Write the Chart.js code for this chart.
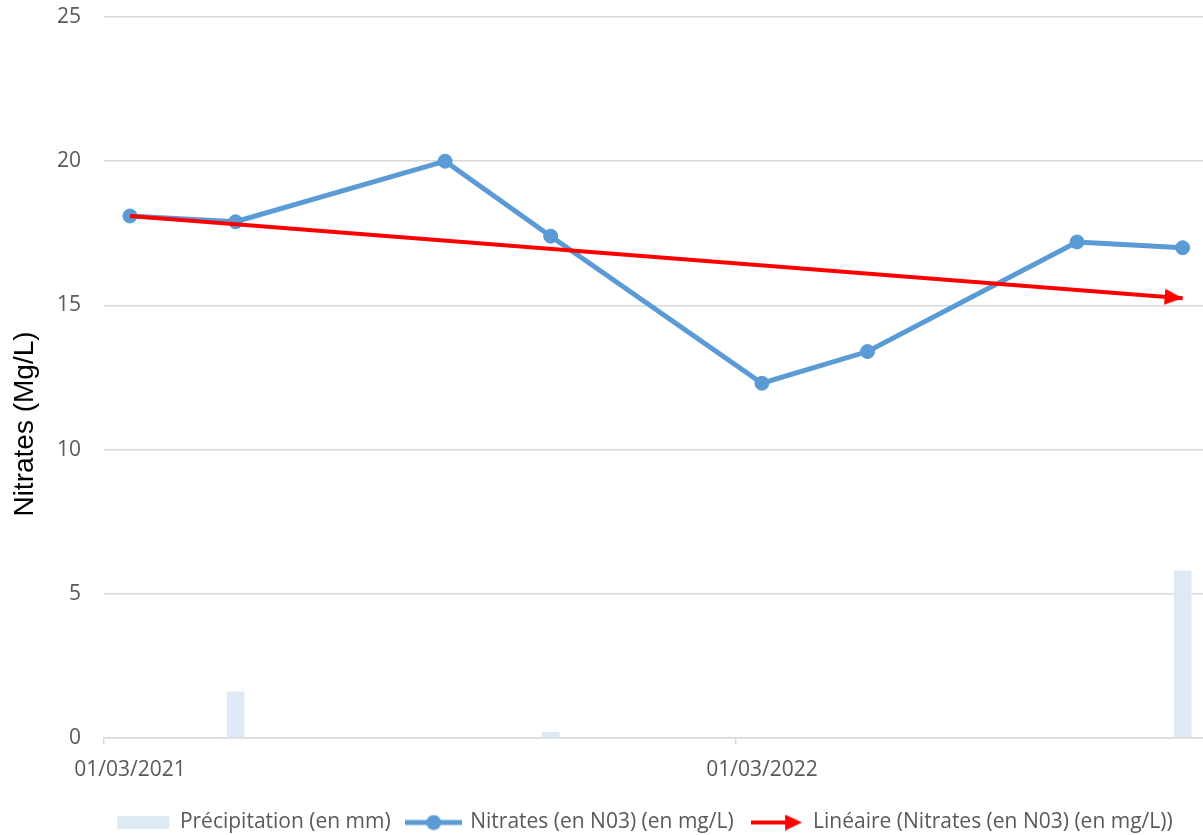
<!DOCTYPE html>
<html>
<head>
<meta charset="utf-8">
<script src="https://cdn.jsdelivr.net/npm/chart.js@4.4.1/dist/chart.umd.min.js"></script>
<style>
  html, body { margin: 0; padding: 0; background: #fff; overflow: hidden; }
  #wrap { width: 1319px; height: 843px; }
</style>
</head>
<body>
<div id="wrap"><canvas id="myChart" width="1319" height="843"></canvas></div>
<script>
const dates = ['2021-03-16', '2021-05-16', '2021-09-14', '2021-11-14', '2022-03-16', '2022-05-16', '2022-09-14', '2022-11-14'];
const nitrates = [18.1, 17.9, 20.0, 17.4, 12.3, 13.4, 17.2, 17.0];
const rainDates = ['2021-05-16', '2021-11-14', '2022-11-14'];
const rain = [1.6, 0.2, 5.8];
const trendDates = ['2021-03-16', '2022-11-14'];
const trend = [18.1, 15.25];
const tickDates = ['2021-03-01', '2022-03-01'];
const tickLabels = ['01/03/2021', '01/03/2022'];
const yTitle = 'Nitrates (Mg/L)';

const blue = '#5b9bd5';
const red = '#ff0000';
const rainColor = '#dde9f5';
const grey = '#595959';
const font = { family: "'Open Sans', 'Noto Sans', sans-serif", size: 21 };

// days since 01/03/2021
const origin = Date.parse('2021-03-01');
const toDay = s => (Date.parse(s) - origin) / 86400000;

function icon(w, h, draw) {
  const c = document.createElement('canvas');
  c.width = w; c.height = h;
  draw(c.getContext('2d'));
  return c;
}

// arrowhead, tip sits at the canvas centre
const arrowHead = icon(36, 16, ctx => {
  ctx.fillStyle = red;
  ctx.beginPath();
  ctx.moveTo(0, 0); ctx.lineTo(18, 8); ctx.lineTo(0, 16);
  ctx.closePath(); ctx.fill();
});

const blueIcon = icon(57, 16, ctx => {
  ctx.strokeStyle = blue; ctx.lineWidth = 5;
  ctx.beginPath(); ctx.moveTo(0, 8); ctx.lineTo(57, 8); ctx.stroke();
  ctx.fillStyle = blue;
  ctx.beginPath(); ctx.arc(28.5, 8, 7.5, 0, Math.PI * 2); ctx.fill();
});

const redIcon = icon(51, 16, ctx => {
  ctx.strokeStyle = red; ctx.lineWidth = 4;
  ctx.beginPath(); ctx.moveTo(0, 8); ctx.lineTo(40, 8); ctx.stroke();
  ctx.fillStyle = red;
  ctx.beginPath(); ctx.moveTo(34, 0); ctx.lineTo(51, 8); ctx.lineTo(34, 16);
  ctx.closePath(); ctx.fill();
});

const yTitlePlugin = {
  id: 'yTitle',
  afterDraw(chart) {
    const ctx = chart.ctx;
    ctx.save();
    ctx.translate(25, 424);
    ctx.rotate(-Math.PI / 2);
    ctx.font = "28px 'Liberation Sans', Arial, sans-serif";
    ctx.fillStyle = '#000';
    ctx.textAlign = 'center';
    ctx.textBaseline = 'middle';
    ctx.fillText(yTitle, 0, 0);
    ctx.restore();
  }
};

const data = {
  datasets: [{
    label: 'Linéaire (Nitrates (en N03) (en mg/L))',
    data: trendDates.map((d, i) => ({ x: toDay(d), y: trend[i] })),
    borderColor: red,
    backgroundColor: red,
    borderWidth: 4,
    pointStyle: arrowHead,
    pointRadius: [0, 8],
    rotation: 4.5,
    order: 0
  }, {
    label: 'Nitrates (en N03) (en mg/L)',
    data: dates.map((d, i) => ({ x: toDay(d), y: nitrates[i] })),
    borderColor: blue,
    backgroundColor: blue,
    borderWidth: 5,
    pointRadius: 7,
    pointBorderWidth: 1,
    order: 1
  }, {
    type: 'bar',
    label: 'Précipitation (en mm)',
    data: rainDates.map((d, i) => ({ x: toDay(d), y: rain[i] })),
    backgroundColor: rainColor,
    borderWidth: 0,
    barThickness: 17,
    order: 2
  }]
};

new Chart(document.getElementById('myChart'), {
  type: 'line',
  data,
  plugins: [yTitlePlugin],
  options: {
    responsive: false,
    animation: false,
    layout: { padding: { top: 17, left: 0, right: 29, bottom: 0 } },
    plugins: {
      tooltip: { enabled: false },
      legend: {
        position: 'bottom',
        labels: {
          usePointStyle: true,
          pointStyleWidth: 52,
          boxHeight: 13,
          padding: 17,
          color: grey,
          font,
          generateLabels: chart => {
            const ds = chart.data.datasets;
            return [
              { text: ds[2].label, pointStyle: 'rect', fillStyle: rainColor, strokeStyle: rainColor, lineWidth: 0, fontColor: grey, datasetIndex: 2 },
              { text: ds[1].label, pointStyle: blueIcon, fillStyle: blue, strokeStyle: blue, lineWidth: 0, fontColor: grey, datasetIndex: 1 },
              { text: ds[0].label, pointStyle: redIcon, fillStyle: red, strokeStyle: red, lineWidth: 0, fontColor: grey, datasetIndex: 0 }
            ];
          }
        }
      }
    },
    scales: {
      x: {
        type: 'linear',
        min: 0,
        max: 685,
        offset: false,
        afterBuildTicks: s => { s.ticks = tickDates.map(d => ({ value: toDay(d) })); },
        afterFit: s => { s.height = 57; },
        ticks: {
          callback: (v, i) => tickLabels[i],
          labelOffset: 26,
          padding: 13,
          maxRotation: 0,
          autoSkip: false,
          color: grey,
          font
        },
        grid: { drawOnChartArea: false, offset: false, color: '#d9d9d9', lineWidth: 1.5, tickLength: 6 },
        border: { color: '#d9d9d9', width: 1.5 }
      },
      y: {
        min: 0,
        max: 25,
        afterFit: s => { s.width = 104; },
        ticks: { stepSize: 5, padding: 0, color: grey, font },
        grid: { color: '#d9d9d9', lineWidth: 1.5, drawTicks: true, tickLength: 23, tickColor: 'rgba(0,0,0,0)' },
        border: { display: false }
      }
    }
  }
});
</script>
</body>
</html>
